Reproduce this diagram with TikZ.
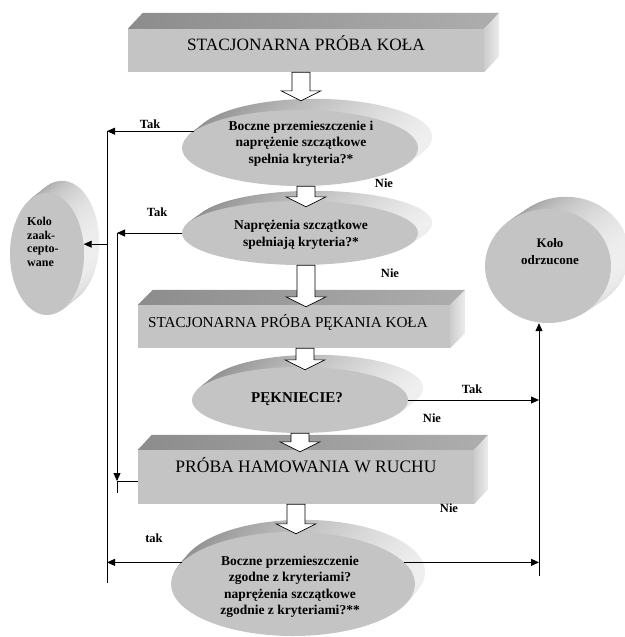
\documentclass[tikz,border=0pt]{standalone}
\usepackage{fontspec}
\setmainfont{Liberation Serif}
\usepackage{tikz}
\tikzset{frontface/.style={fill=black!23,draw=none,inner sep=0pt},
         boxface/.style={frontface,rectangle},
         discface/.style={frontface,ellipse},
         topface/.style={left color=black!45,right color=black!32},
         sideface/.style={left color=black!20,right color=black!7},
         rimface/.style={left color=black!45,middle color=black!36,right color=black!6},
         blockarr/.style={draw=black,fill=white,line width=0.6pt},
         conn/.style={line width=0.8pt},
         arr/.style={conn,-{Triangle[length=8pt,width=7pt]}},
         flowlabel/.style={font=\fontsize{12.5}{14}\selectfont\bfseries,inner sep=0pt},
         boxtext/.style={inner sep=0pt},
         disctext/.style={align=center,inner sep=0pt,font=\fontsize{13.5}{16.5}\selectfont\bfseries}}
\usetikzlibrary{shapes.geometric}
\usetikzlibrary{arrows.meta}
\usetikzlibrary{calc}
\pgfdeclarelayer{background}
\pgfsetlayers{background,main}

\begin{document}
\begin{tikzpicture}[x=1pt,y=-1pt]
\useasboundingbox (0,0) rectangle (624,637);

%%front faces of the boxes
\node[boxface,minimum width=356pt,minimum height=43pt] (b1) at (306,50.5) {};
\node[boxface,minimum width=312pt,minimum height=43pt] (b2) at (294,326.5) {};
\node[boxface,minimum width=336pt,minimum height=54pt] (b3) at (306,477) {};

%%front faces of the discs
\node[discface,minimum width=236pt,minimum height=76pt] (e1) at (300,148) {};
\node[discface,minimum width=236pt,minimum height=64pt] (e2) at (300,233) {};
\node[discface,minimum width=216pt,minimum height=66pt] (e3) at (300,400) {};
\node[discface,minimum width=244pt,minimum height=104pt] (e4) at (293,584) {};
\node[discface,minimum width=74pt,minimum height=122pt] (kz) at (47,254) {};
\node[discface,minimum width=126pt,minimum height=114pt] (ko) at (548,266) {};

%%3D sides go behind the front faces
\begin{pgfonlayer}{background}
\foreach \nd/\dx/\dy in {b1/15/16,b2/15/15,b3/14/15} {
  \shade[topface] (\nd.north west) -- ++(\dx,-\dy) -- ($(\nd.north east)+(\dx,-\dy)$) -- (\nd.north east) -- cycle;
  \shade[sideface] (\nd.north east) -- ++(\dx,-\dy) -- ($(\nd.south east)+(\dx,-\dy)$) -- (\nd.south east) -- cycle;
}
\foreach \nd/\dx/\dy in {e1/14/11,e2/14/10,e3/15/12,e4/10/12,kz/15/12,ko/18/12} {
  \foreach \k in {10,...,1}
    \shade[rimface] let \p0=(\nd.center),\p1=(\nd.east),\p2=(\nd.north) in
      ($(\p0)+(\k*\dx/10,-\k*\dy/10)$) ellipse [x radius=\x1-\x0, y radius=\y2-\y0];
}
\end{pgfonlayer}

%%texts
\node[boxtext,font=\fontsize{17.3}{19}\selectfont] (b1t) at (306,43) {STACJONARNA PRÓBA KOŁA};
\node[boxtext,font=\fontsize{15.2}{17}\selectfont] (b2t) at (288,322) {STACJONARNA PRÓBA PĘKANIA KOŁA};
\node[boxtext,font=\fontsize{17.5}{19}\selectfont] (b3t) at (306,465) {PRÓBA HAMOWANIA W RUCHU};
\node[disctext] (e1t) at (301,143.5) {Boczne przemieszczenie i\\naprężenie szczątkowe\\spełnia kryteria?*};
\node[disctext] (e2t) at (301,235) {Naprężenia szczątkowe\\spełniają kryteria?*};
\node[disctext,font=\fontsize{15}{17}\selectfont\bfseries] (e3t) at (297,399) {PĘKNIECIE?};
\node[disctext] (e4t) at (290,587) {Boczne przemieszczenie\\zgodne z kryteriami?\\naprężenia szczątkowe\\zgodnie z kryteriami?**};
\node[disctext,align=left,anchor=west,font=\fontsize{12}{13.5}\selectfont\bfseries] (kzt) at (27,242) {Kolo\\zaak-\\cepto-\\wane};
\node[disctext,font=\fontsize{13}{17}\selectfont\bfseries] (kot) at (550,251.5) {Koło\\odrzucone};

%%block arrows between the steps
\foreach \a/\b/\cx/\ty in {b1/e1/301/-9,e1/e2/306/6,e2/b2/306/2,b2/e3/305/3,e3/b3/300/2,b3/e4/296/2}
  \draw[blockarr] let \p1=(\a.south),\p2=($(\b.north)+(0,\ty)$) in
    (\cx pt-9pt,\y1) -- (\cx pt-9pt,\y2+10pt) -- (\cx pt-20pt,\y2+10pt) -- (\cx pt,\y2)
    -- (\cx pt+20pt,\y2+10pt) -- (\cx pt+9pt,\y2+10pt) -- (\cx pt+9pt,\y1) -- cycle;

%%connectors
\coordinate (outT) at (107,131);
\coordinate (outB) at (107,583);
\coordinate (inT) at (117,235);
\coordinate (inJ) at (117,481);
\coordinate (inB) at (117,493);
\coordinate (rgtB) at (539,576);

\draw[conn] (outT) -- (outB);
\draw[arr] (e1.171) -- (e1.171 -| outT);
\draw[arr] (outT |- kz.15) -- (kz.15);
\draw[arr] (e2.west) -- (e2.west -| inT);
\draw[arr] (e2.west -| inT) -- (inJ);
\draw[conn] (inJ) -- (inB);
\draw[conn] (b3.west |- inJ) -- (inJ);
\draw[arr] (e3.east) -- (e3.east -| rgtB);
\draw[arr] (e4.169) -- (e4.169 -| outB);
\draw[arr] (e4.11) -- (e4.11 -| rgtB);
\draw[arr] (rgtB) -- (rgtB |- ko.south);

%%labels on the connectors
\node[flowlabel] (tak1) at (150,124) {Tak};
\node[flowlabel] (tak2) at (157,212) {Tak};
\node[flowlabel] (nie1) at (384,183) {Nie};
\node[flowlabel] (nie2) at (390,273) {Nie};
\node[flowlabel] (tak3) at (472,389) {Tak};
\node[flowlabel] (nie3) at (432,418) {Nie};
\node[flowlabel] (nie4) at (449,508) {Nie};
\node[flowlabel] (tak4) at (154,538) {tak};

\end{tikzpicture}
\end{document}
